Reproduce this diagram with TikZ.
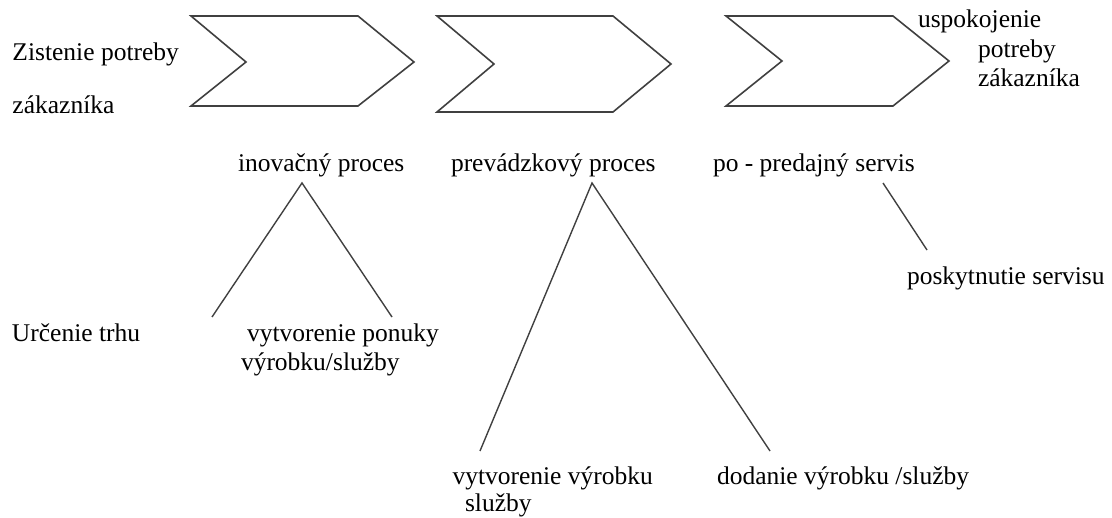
\documentclass[tikz,border=0pt]{standalone}
\usepackage{fontspec}
\setmainfont{Liberation Serif}
\begin{document}
\begin{tikzpicture}[x=1pt,y=-1pt,
  lbl/.style={anchor=base west,inner sep=0pt,outer sep=0pt,
    font=\fontsize{25.5}{30}\selectfont,text=black},
  chev/.style={draw=black!75,line width=1.6pt,line join=miter},
  link/.style={draw=black!75,line width=1.4pt}]
\useasboundingbox (0,0) rectangle (1112,518);

% three process chevrons
\draw[chev] (191,16) -- (358,16) -- (414,62) -- (358,106) -- (191,106) -- (246,62) -- cycle;
\draw[chev] (437,16) -- (613,16) -- (671,64) -- (613,112) -- (437,112) -- (494,64) -- cycle;
\draw[chev] (726,16) -- (893,16) -- (949,61) -- (893,106) -- (726,106) -- (782,61) -- cycle;

% start and end of the chain
\node[lbl] (need1) at (12.5,61) {Zistenie potreby};
\node[lbl] (need2) at (12.5,114) {zákazníka};
\node[lbl] (sat1) at (918,28) {uspokojenie};
\node[lbl] (sat2) at (978,58) {potreby};
\node[lbl] (sat3) at (978,87) {zákazníka};

% process names
\node[lbl] (ino) at (238,172) {inovačný proces};
\node[lbl] (prev) at (451,172) {prevádzkový proces};
\node[lbl] (serv) at (713,172) {po - predajný servis};

% sub-activities
\node[lbl] (trh) at (12,342) {Určenie trhu};
\node[lbl] (pon1) at (247,342) {vytvorenie ponuky};
\node[lbl] (pon2) at (241,371) {výrobku/služby};
\node[lbl] (vyt1) at (452.5,485) {vytvorenie výrobku};
\node[lbl] (vyt2) at (465,512) {služby};
\node[lbl] (dod) at (717,485) {dodanie výrobku /služby};
\node[lbl] (posk) at (907,285) {poskytnutie servisu};

% connector end points
\coordinate (inoTop) at (302,183);
\coordinate (trhEnd) at (212,317);
\coordinate (ponEnd) at (392,317);
\coordinate (prevTop) at (592,183);
\coordinate (vytEnd) at (480,451);
\coordinate (dodEnd) at (770,451);
\coordinate (servTop) at (883,183);
\coordinate (poskEnd) at (927,250);

\draw[link] (trhEnd) -- (inoTop) -- (ponEnd);
\draw[link] (vytEnd) -- (prevTop) -- (dodEnd);
\draw[link] (servTop) -- (poskEnd);
\end{tikzpicture}
\end{document}
